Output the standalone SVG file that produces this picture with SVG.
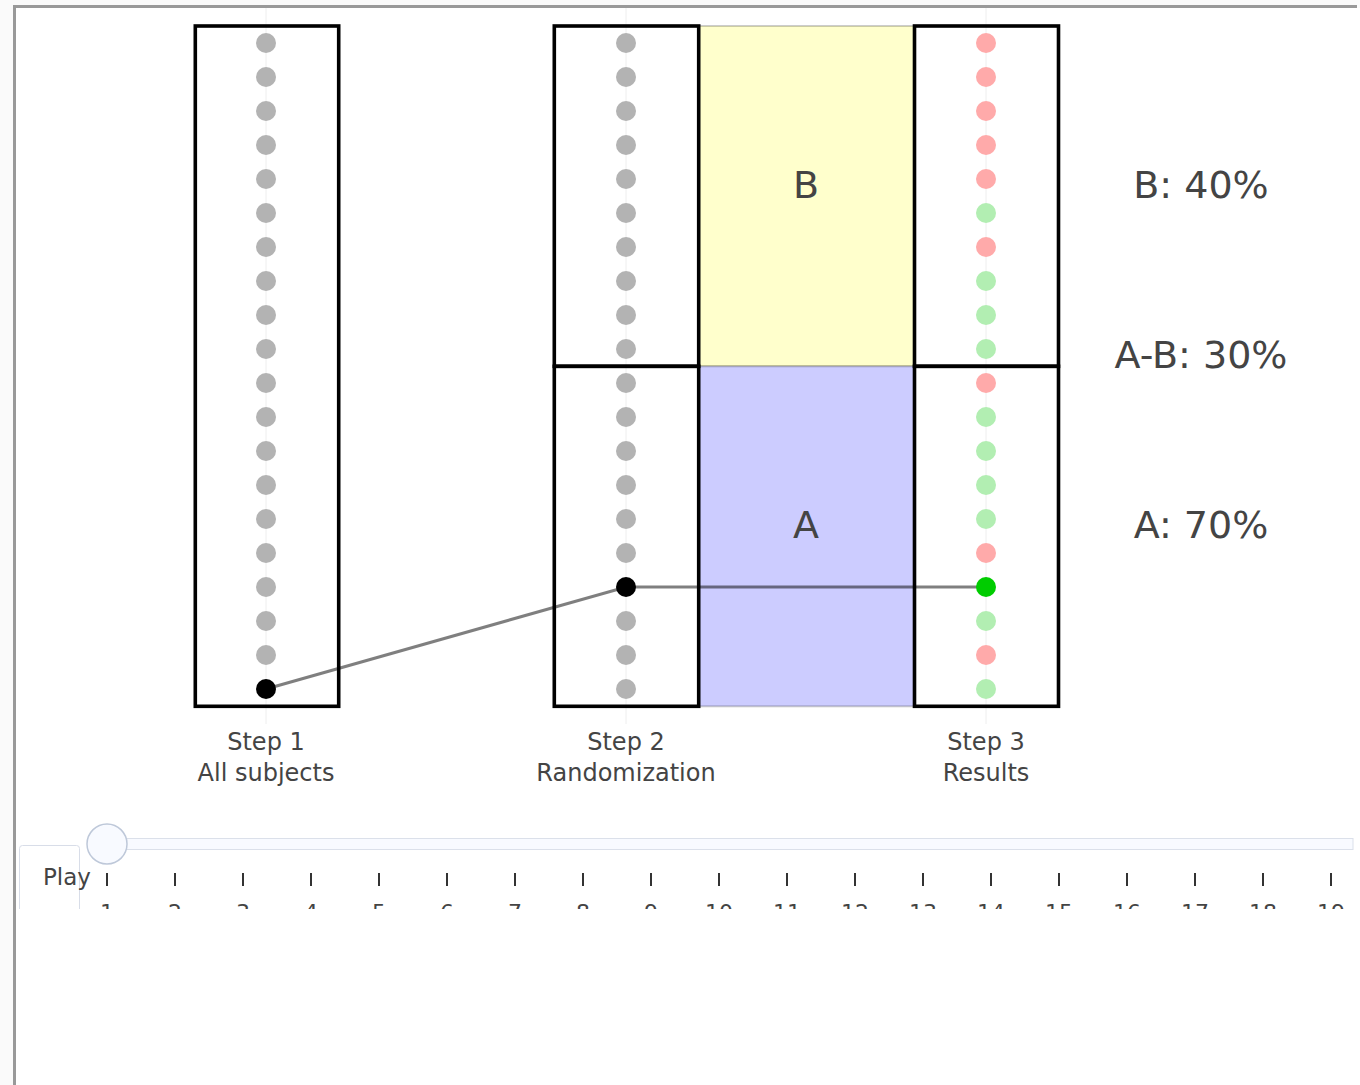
<svg xmlns="http://www.w3.org/2000/svg" width="1360" height="1085" viewBox="0 0 1360 1085">
<style>
  text { font-family: "DejaVu Sans", Verdana, sans-serif; fill: #444; }
  .box { fill: none; stroke: #000; stroke-width: 3.6; }
  .grid { stroke: #eeeeee; stroke-width: 1; }
  .g { fill: #b3b3b3; }
  .r { fill: #ffaaaa; }
  .gr { fill: #b2eeb2; }
  .tick { stroke: #333; stroke-width: 2; }
  .axis { font-size: 24px; text-anchor: middle; }
  .big { font-size: 38px; text-anchor: middle; }
  .num { font-size: 22px; text-anchor: middle; }
</style>
<defs>
  <clipPath id="sliderClip"><rect x="16" y="800" width="1341" height="109"/></clipPath>
</defs>
<rect x="0" y="0" width="1360" height="1085" fill="#fafafa"/>
<rect x="16" y="8" width="1344" height="1077" fill="#ffffff"/>
<rect x="13" y="5" width="3" height="1080" fill="#999999"/>
<rect x="13" y="5" width="1344" height="3" fill="#999999"/>

<g id="grid">
  <line class="grid" x1="266" y1="8" x2="266" y2="724"/>
  <line class="grid" x1="626" y1="8" x2="626" y2="724"/>
  <line class="grid" x1="986" y1="8" x2="986" y2="724"/>
</g>

<g id="region-B">
  <rect x="698.7" y="26" width="215.8" height="340.3" fill="#ffffcc" stroke="rgba(0,0,0,0.2)" stroke-width="2"/>
  <text class="big" x="806" y="198">B</text>
</g>
<g id="region-A">
  <rect x="698.7" y="366.3" width="215.8" height="340" fill="#ccccff" stroke="rgba(0,0,0,0.2)" stroke-width="2"/>
  <text class="big" x="806" y="538">A</text>
</g>

<g id="connectors">
  <polyline points="266,689 626,587 986,587" fill="none" stroke="rgba(0,0,0,0.5)" stroke-width="3"/>
</g>

<g id="step1">
  <rect class="box" x="195.3" y="26" width="143.4" height="680.3"/>
  <g class="g">
    <circle cx="266" cy="43" r="10"/><circle cx="266" cy="77" r="10"/><circle cx="266" cy="111" r="10"/><circle cx="266" cy="145" r="10"/>
    <circle cx="266" cy="179" r="10"/><circle cx="266" cy="213" r="10"/><circle cx="266" cy="247" r="10"/><circle cx="266" cy="281" r="10"/>
    <circle cx="266" cy="315" r="10"/><circle cx="266" cy="349" r="10"/><circle cx="266" cy="383" r="10"/><circle cx="266" cy="417" r="10"/>
    <circle cx="266" cy="451" r="10"/><circle cx="266" cy="485" r="10"/><circle cx="266" cy="519" r="10"/><circle cx="266" cy="553" r="10"/>
    <circle cx="266" cy="587" r="10"/><circle cx="266" cy="621" r="10"/><circle cx="266" cy="655" r="10"/>
  </g>
  <circle cx="266" cy="689" r="10" fill="#000"/>
  <text class="axis" x="266" y="750">Step 1</text>
  <text class="axis" x="266" y="781">All subjects</text>
</g>

<g id="step2">
  <rect class="box" x="554.3" y="26" width="144.4" height="340.3"/>
  <rect class="box" x="554.3" y="366.3" width="144.4" height="340"/>
  <g class="g">
    <circle cx="626" cy="43" r="10"/><circle cx="626" cy="77" r="10"/><circle cx="626" cy="111" r="10"/><circle cx="626" cy="145" r="10"/>
    <circle cx="626" cy="179" r="10"/><circle cx="626" cy="213" r="10"/><circle cx="626" cy="247" r="10"/><circle cx="626" cy="281" r="10"/>
    <circle cx="626" cy="315" r="10"/><circle cx="626" cy="349" r="10"/><circle cx="626" cy="383" r="10"/><circle cx="626" cy="417" r="10"/>
    <circle cx="626" cy="451" r="10"/><circle cx="626" cy="485" r="10"/><circle cx="626" cy="519" r="10"/><circle cx="626" cy="553" r="10"/>
    <circle cx="626" cy="621" r="10"/><circle cx="626" cy="655" r="10"/><circle cx="626" cy="689" r="10"/>
  </g>
  <circle cx="626" cy="587" r="10" fill="#000"/>
  <text class="axis" x="626" y="750">Step 2</text>
  <text class="axis" x="626" y="781">Randomization</text>
</g>

<g id="step3">
  <rect class="box" x="914.5" y="26" width="144" height="340.3"/>
  <rect class="box" x="914.5" y="366.3" width="144" height="340"/>
  <circle class="r" cx="986" cy="43" r="10"/>
  <circle class="r" cx="986" cy="77" r="10"/>
  <circle class="r" cx="986" cy="111" r="10"/>
  <circle class="r" cx="986" cy="145" r="10"/>
  <circle class="r" cx="986" cy="179" r="10"/>
  <circle class="gr" cx="986" cy="213" r="10"/>
  <circle class="r" cx="986" cy="247" r="10"/>
  <circle class="gr" cx="986" cy="281" r="10"/>
  <circle class="gr" cx="986" cy="315" r="10"/>
  <circle class="gr" cx="986" cy="349" r="10"/>
  <circle class="r" cx="986" cy="383" r="10"/>
  <circle class="gr" cx="986" cy="417" r="10"/>
  <circle class="gr" cx="986" cy="451" r="10"/>
  <circle class="gr" cx="986" cy="485" r="10"/>
  <circle class="gr" cx="986" cy="519" r="10"/>
  <circle class="r" cx="986" cy="553" r="10"/>
  <circle cx="986" cy="587" r="10" fill="#00cc00"/>
  <circle class="gr" cx="986" cy="621" r="10"/>
  <circle class="r" cx="986" cy="655" r="10"/>
  <circle class="gr" cx="986" cy="689" r="10"/>
  <text class="axis" x="986" y="750">Step 3</text>
  <text class="axis" x="986" y="781">Results</text>
</g>

<g id="annotations">
  <text class="big" x="1201" y="198">B: 40%</text>
  <text class="big" x="1201" y="368">A-B: 30%</text>
  <text class="big" x="1201" y="538">A: 70%</text>
</g>

<g id="slider" clip-path="url(#sliderClip)">
  <rect x="19.5" y="845.5" width="60" height="80" rx="3" fill="#ffffff" stroke="#d8dde8" stroke-width="1"/>
  <text x="43" y="885" font-size="23">Play</text>
  <rect x="100" y="838.5" width="1253" height="11" fill="#f8faff" stroke="#dbe0ea" stroke-width="1"/>
  <circle cx="107" cy="844" r="20" fill="#f8faff" stroke="#bec8d9" stroke-width="1.5"/>
  <g>
    <line class="tick" x1="107" y1="873" x2="107" y2="886"/>
    <line class="tick" x1="175" y1="873" x2="175" y2="886"/>
    <line class="tick" x1="243" y1="873" x2="243" y2="886"/>
    <line class="tick" x1="311" y1="873" x2="311" y2="886"/>
    <line class="tick" x1="379" y1="873" x2="379" y2="886"/>
    <line class="tick" x1="447" y1="873" x2="447" y2="886"/>
    <line class="tick" x1="515" y1="873" x2="515" y2="886"/>
    <line class="tick" x1="583" y1="873" x2="583" y2="886"/>
    <line class="tick" x1="651" y1="873" x2="651" y2="886"/>
    <line class="tick" x1="719" y1="873" x2="719" y2="886"/>
    <line class="tick" x1="787" y1="873" x2="787" y2="886"/>
    <line class="tick" x1="855" y1="873" x2="855" y2="886"/>
    <line class="tick" x1="923" y1="873" x2="923" y2="886"/>
    <line class="tick" x1="991" y1="873" x2="991" y2="886"/>
    <line class="tick" x1="1059" y1="873" x2="1059" y2="886"/>
    <line class="tick" x1="1127" y1="873" x2="1127" y2="886"/>
    <line class="tick" x1="1195" y1="873" x2="1195" y2="886"/>
    <line class="tick" x1="1263" y1="873" x2="1263" y2="886"/>
    <line class="tick" x1="1331" y1="873" x2="1331" y2="886"/>
  </g>
  <g>
    <text class="num" x="107" y="920">1</text>
    <text class="num" x="175" y="920">2</text>
    <text class="num" x="243" y="920">3</text>
    <text class="num" x="311" y="920">4</text>
    <text class="num" x="379" y="920">5</text>
    <text class="num" x="447" y="920">6</text>
    <text class="num" x="515" y="920">7</text>
    <text class="num" x="583" y="920">8</text>
    <text class="num" x="651" y="920">9</text>
    <text class="num" x="719" y="920">10</text>
    <text class="num" x="787" y="920">11</text>
    <text class="num" x="855" y="920">12</text>
    <text class="num" x="923" y="920">13</text>
    <text class="num" x="991" y="920">14</text>
    <text class="num" x="1059" y="920">15</text>
    <text class="num" x="1127" y="920">16</text>
    <text class="num" x="1195" y="920">17</text>
    <text class="num" x="1263" y="920">18</text>
    <text class="num" x="1331" y="920">19</text>
  </g>
</g>
</svg>
